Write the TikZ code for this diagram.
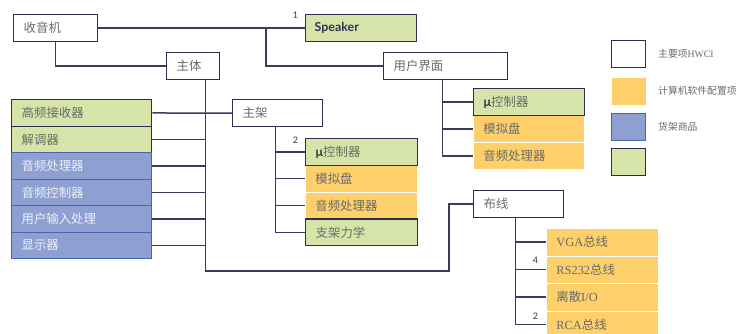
\documentclass[tikz,border=0pt]{standalone}
\usepackage{fontspec}
\setmainfont{Liberation Serif}
\newfontfamily\cjk{Noto Sans CJK SC}
\newfontfamily\lato{Lato}
\definecolor{linec}{HTML}{3B3B5E}
\definecolor{hwborder}{HTML}{2D2D50}
\definecolor{greenfill}{HTML}{D6E4A9}
\definecolor{orangefill}{HTML}{FDD06C}
\definecolor{bluefill}{HTML}{8DA0D1}
\definecolor{blueborder}{HTML}{4A64AE}
\definecolor{txtgrey}{HTML}{6A6A6A}
\definecolor{bluetext}{HTML}{EEF1F8}
\definecolor{darktxt}{HTML}{33334F}
\begin{document}
\begin{tikzpicture}[x=1pt,y=-1pt,
  base/.style={anchor=north west, inner xsep=10pt, inner ysep=0pt, align=left,
    font=\fontsize{12.4}{14}\selectfont, text=txtgrey, line width=1.4pt},
  hw/.style={base, draw=hwborder, fill=white},
  grn/.style={base, draw=hwborder, fill=greenfill},
  org/.style={base, draw=white, line width=0.8pt, fill=orangefill},
  blu/.style={base, draw=blueborder, line width=1.2pt, fill=bluefill, text=bluetext},
  conn/.style={draw=linec, line width=1.5pt},
  num/.style={font=\lato\fontsize{9}{10}\selectfont, text=darktxt, inner sep=0pt},
  leg/.style={anchor=west, font=\fontsize{9.8}{11}\selectfont, text=txtgrey, inner sep=0pt},
  legbox/.style={anchor=north west, minimum width=34pt, minimum height=27pt, inner sep=0pt, line width=1.4pt},
]
\useasboundingbox (0,0) rectangle (747,333);

% top level
\node[hw, text width=64pt, minimum height=27pt] (radio) at (13,14) {\cjk 收音机};
\node[grn, text width=93pt, inner xsep=9pt, minimum height=27pt, text=darktxt,
  font=\lato\bfseries\fontsize{12.4}{14}\selectfont] (speaker) at (305,14) {Speaker};
\node[hw, text width=33pt, minimum height=27pt] (body) at (166,52) {\cjk 主体};
\node[hw, text width=104pt, minimum height=27pt] (ui) at (383,52) {\cjk 用户界面};

% left column
\node[grn, text width=120pt, minimum height=26.5pt] (hf) at (11,99) {\cjk 高频接收器};
\node[grn, text width=120pt, minimum height=26.5pt] (demod) at (11,125.5) {\cjk 解调器};
\node[blu, text width=120pt, minimum height=26.5pt] (ap) at (11,152) {\cjk 音频处理器};
\node[blu, text width=120pt, minimum height=26.5pt] (ac) at (11,178.5) {\cjk 音频控制器};
\node[blu, text width=120pt, minimum height=26.5pt] (uin) at (11,205) {\cjk 用户输入处理};
\node[blu, text width=120pt, minimum height=26.5pt] (disp) at (11,231.5) {\cjk 显示器};

% main frame
\node[hw, text width=70pt, minimum height=27pt] (mf) at (232,99) {\cjk 主架};
\node[org, text width=92pt, minimum height=26.75pt] (an1) at (305,164.75) {\cjk 模拟盘};
\node[org, text width=92pt, minimum height=26.75pt] (ap1) at (305,191.5) {\cjk 音频处理器};
\node[grn, text width=92pt, minimum height=26.75pt] (mu1) at (305,138) {{\lato\bfseries\color{darktxt}μ}\cjk 控制器};
\node[grn, text width=92pt, minimum height=26.75pt] (mech) at (305,218.25) {\cjk 支架力学};

% user interface column
\node[org, text width=91pt, minimum height=27pt] (an2) at (473,115) {\cjk 模拟盘};
\node[org, text width=91pt, minimum height=27pt] (ap2) at (473,142) {\cjk 音频处理器};
\node[grn, text width=91pt, minimum height=27pt] (mu2) at (473,88) {{\lato\bfseries\color{darktxt}μ}\cjk 控制器};

% wiring
\node[hw, text width=70pt, minimum height=27pt] (wire) at (473,190) {\cjk 布线};
\node[org, text width=92pt, minimum height=27.5pt] (vga) at (546,228) {VGA{\cjk 总线}};
\node[org, text width=92pt, minimum height=27.5pt] (rs) at (546,255.5) {RS232{\cjk 总线}};
\node[org, text width=92pt, minimum height=27.5pt] (dio) at (546,283) {{\cjk 离散}I/O};
\node[org, text width=92pt, minimum height=27.5pt] (rca) at (546,310.5) {RCA{\cjk 总线}};

% legend
\node[legbox, draw=hwborder, fill=white] (l1) at (611,40) {};
\node[legbox, fill=orangefill] (l2) at (611,77) {};
\node[legbox, draw=blueborder, line width=1.2pt, fill=bluefill] (l3) at (611,113) {};
\node[legbox, draw=hwborder, fill=greenfill] (l4) at (611,148) {};
\node[leg] (t1) at (658,53.5) {{\cjk 主要项}HWCI};
\node[leg] (t2) at (658,90.5) {\cjk 计算机软件配置项};
\node[leg] (t3) at (658,126.5) {\cjk 货架商品};

% numbers
\node[num] (n1) at (295.5,15.5) {1};
\node[num] (n2) at (295.5,140.5) {2};
\node[num] (n3) at (535.5,260.5) {4};
\node[num] (n4) at (535.5,316.5) {2};

% connectors
\coordinate (j1) at (266,27.5);
\coordinate (bt) at ([xshift=12.5pt]body.south);
\coordinate (wc) at (449,271);
\coordinate (mt) at ([xshift=-2pt]mf.south);
\coordinate (ut) at ([xshift=-3pt]ui.south);
\coordinate (wt) at ([xshift=-3pt]wire.south);

\draw[conn] (radio.east) -- (speaker.west);
\draw[conn] (j1) |- (ui.west);
\draw[conn] (radio.south) |- (body.west);
\draw[conn] (bt) |- (wc) |- (wire.west);
\draw[conn] (hf.east) -- (mf.west);
\foreach \n in {demod,ap,ac,uin,disp} \draw[conn] (\n.east) -- (\n.east -| bt);
\draw[conn] (mt) |- (mech.west);
\foreach \n in {mu1,an1,ap1} \draw[conn] (\n.west -| mt) -- (\n.west);
\draw[conn] (ut) |- (ap2.west);
\foreach \n in {mu2,an2} \draw[conn] (\n.west -| ut) -- (\n.west);
\draw[conn] (wt) |- (rca.west);
\foreach \n in {vga,rs,dio} \draw[conn] (\n.west -| wt) -- (\n.west);
\end{tikzpicture}
\end{document}
